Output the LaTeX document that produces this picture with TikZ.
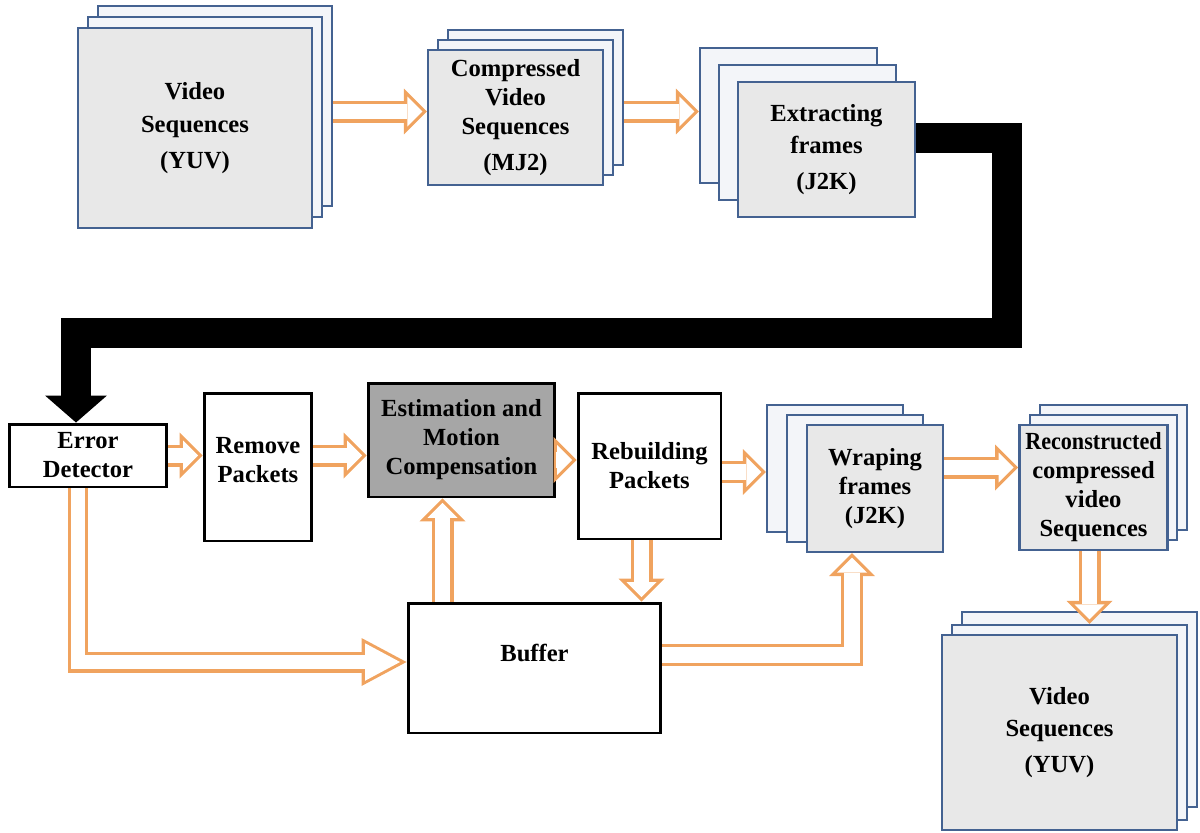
\documentclass[tikz,border=0pt]{standalone}
\usepackage{fontspec}
\setmainfont{Liberation Serif}
\usepackage{graphicx}
\usetikzlibrary{arrows.meta,positioning,calc}
\definecolor{SheetBlue}{RGB}{68,98,145}
\definecolor{SheetGray}{RGB}{232,232,232}
\definecolor{SheetBack}{RGB}{243,245,249}
\definecolor{FlowOrange}{RGB}{240,163,95}
\definecolor{StageGray}{RGB}{166,166,166}

\begin{document}
\begin{tikzpicture}[
        x=0.02cm, y=-0.02cm,
        every node/.style={font=\bfseries\fontsize{14}{16.5}\selectfont, align=center},
        loose/.style={font=\bfseries\fontsize{14}{18.5}\selectfont},
        frame/.style={draw=SheetBlue, line width=1.4pt, fill=SheetGray},
        sheet/.style={draw=SheetBlue, line width=1.4pt, fill=SheetBack},
        stage/.style={draw=black, line width=1.7pt, fill=white},
        flow/.style={draw=FlowOrange, line width=0.44cm, line join=miter,
                     -{Triangle[length=0.46cm, width=0.92cm, line width=0pt]},
                     postaction={draw=white, line width=0.31cm, shorten >=0.09cm,
                     -{Triangle[length=0.3cm, width=0.6cm, line width=0pt]}}},
        flowlong/.style={draw=FlowOrange, line width=0.42cm, line join=miter,
                     -{Triangle[length=0.9cm, width=0.96cm, line width=0pt]},
                     postaction={draw=white, line width=0.29cm, shorten >=0.13cm,
                     -{Triangle[length=0.7cm, width=0.75cm, line width=0pt]}}},
        bigflow/.style={draw=black, line width=0.6cm, line join=miter,
                     -{Triangle[length=0.54cm, width=1.24cm, line width=0pt]}}
    ]
        \useasboundingbox (0,0) rectangle (1200,832);

        % stacked frames, back sheets first
        \foreach \i/\dx/\dy in {2/20/-22, 1/10/-11}
            \node[sheet, minimum width=4.68cm, minimum height=4cm] (vid\i) at ($(195,128)+(\dx,\dy)$) {};
        \node[frame, loose, minimum width=4.68cm, minimum height=4cm] (vid) at (195,128) {Video\\Sequences\\[2pt](YUV)};

        \foreach \i/\dx/\dy in {2/20/-20, 1/10/-10}
            \node[sheet, minimum width=3.5cm, minimum height=2.7cm] (cmp\i) at ($(515.5,117.5)+(\dx,\dy)$) {};
        \node[frame, minimum width=3.5cm, minimum height=2.7cm] (cmp) at (515.5,117.5) {Compressed\\Video\\Sequences\\[4pt](MJ2)};

        \foreach \i/\dx/\dy in {2/-38/-34, 1/-19/-17}
            \node[sheet, minimum width=3.54cm, minimum height=2.7cm] (ext\i) at ($(826.5,149.5)+(\dx,\dy)$) {};
        \node[frame, loose, minimum width=3.54cm, minimum height=2.7cm] (ext) at (826.5,149.5) {Extracting\\frames\\[2pt](J2K)};

        % processing chain
        \node[stage, minimum width=3.16cm, minimum height=1.26cm] (err) at (88,455.5) {Error\\Detector};
        \node[stage, text depth=0.3cm, minimum width=2.16cm, minimum height=2.96cm] (rem) at (258,467) {Remove\\Packets};
        \node[stage, fill=StageGray, minimum width=3.74cm, minimum height=2.28cm] (est) at (461.5,440) {Estimation and\\Motion\\Compensation};
        \node[stage, minimum width=2.86cm, minimum height=2.92cm] (reb) at (649.5,466) {Rebuilding\\Packets};
        \node[stage, text depth=0.62cm, minimum width=5.06cm, minimum height=2.6cm] (buf) at (534.5,668) {Buffer};

        \foreach \i/\dx/\dy in {2/-40/-20, 1/-20/-10}
            \node[sheet, minimum width=2.72cm, minimum height=2.54cm] (wrp\i) at ($(875,488.5)+(\dx,\dy)$) {};
        \node[frame, minimum width=2.72cm, minimum height=2.54cm] (wrp) at (875,488.5) {Wraping\\frames\\(J2K)};

        \foreach \i/\dx/\dy in {2/20/-20, 1/10/-10}
            \node[sheet, minimum width=2.94cm, minimum height=2.5cm] (rec\i) at ($(1093.5,487.5)+(\dx,\dy)$) {};
        \node[frame, minimum width=2.94cm, minimum height=2.5cm] (rec) at (1093.5,487.5) {\scalebox{0.9}[1]{Reconstructed}\\compressed\\video\\Sequences};

        \foreach \i/\dx/\dy in {2/20/-23, 1/10/-10}
            \node[sheet, minimum width=4.7cm, minimum height=3.9cm] (out\i) at ($(1059.5,732.5)+(\dx,\dy)$) {};
        \node[frame, loose, minimum width=4.7cm, minimum height=3.9cm] (out) at (1059.5,732.5) {Video\\Sequences\\[2pt](YUV)};

        % connectors
        \draw[flow] ([shift={(0,-6)}]cmp.west -| vid2.east) -- ([shift={(0,-6)}]cmp.west);
        \draw[flow] ([shift={(0,-6)}]cmp.west -| cmp2.east) -- ([shift={(0,-6)}]cmp.west -| ext2.west);

        \coordinate (loop) at (1007,333);
        \draw[bigflow] ([shift={(0,-12)}]ext.east) -| (loop) -| ([shift={(-12,0)}]err.north);

        \draw[flow] (err.east) -- (err.east -| rem.west);
        \draw[flow] (err.east -| rem.east) -- (err.east -| est.west);
        \draw[flow] ([shift={(0,20)}]est.east) -- ([shift={(0,20)}]est.east -| reb.west);
        \draw[flow] ([shift={(0,6)}]reb.east) -- ([shift={(0,6)}]reb.east -| wrp2.west);
        \draw[flow] ([shift={(0,-21)}]wrp.east) -- ([shift={(0,-21)}]wrp.east -| rec.west);
        \draw[flow] ([shift={(-4,0)}]rec.south) -- ([shift={(-4,0)}]rec.south |- out1.north);
        \draw[flow] ([shift={(-8,0)}]reb.south) -- ([shift={(-8,0)}]reb.south |- buf.north);
        \draw[flow] ([shift={(-19,0)}]est.south |- buf.north) -- ([shift={(-19,0)}]est.south);
        \draw[flow] ([shift={(0,-13)}]buf.east) -| ([shift={(-23,0)}]wrp.south);
        \draw[flowlong] ([shift={(-10,0)}]err.south) |- ([shift={(0,-6)}]buf.west);
    \end{tikzpicture}
\end{document}
